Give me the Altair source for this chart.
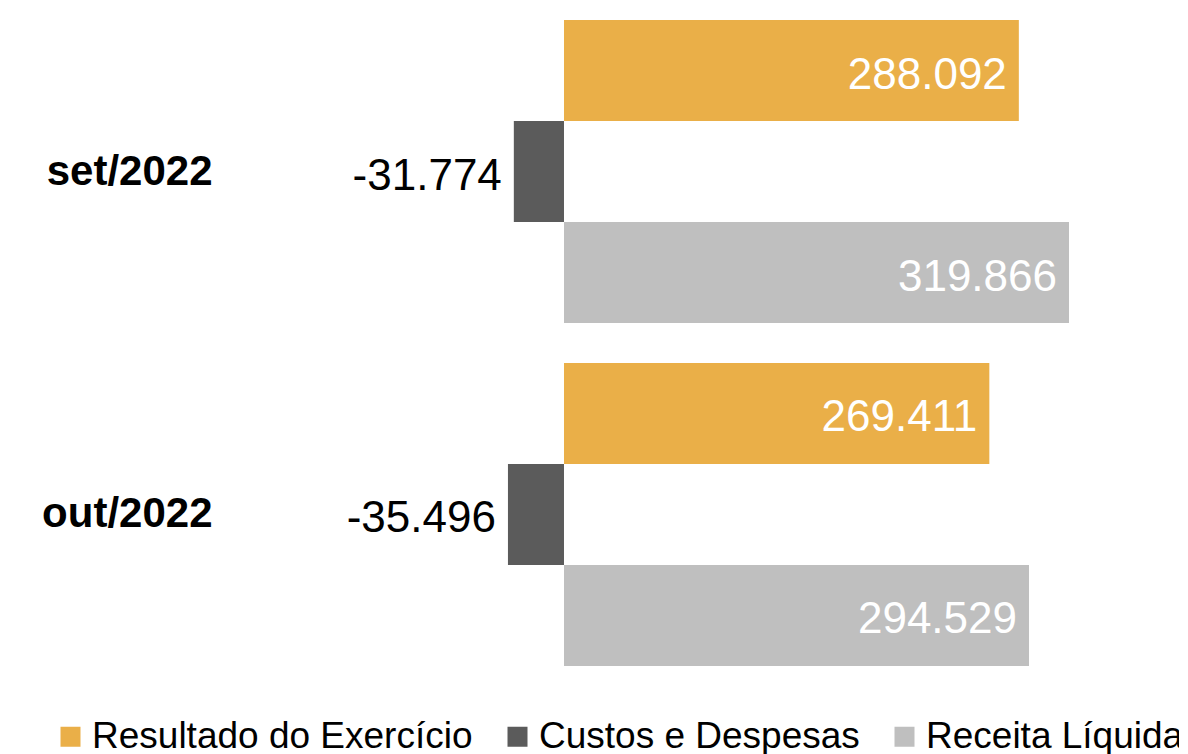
import altair as alt
import pandas as pd

categories = ["set/2022", "out/2022"]
series = ["Resultado do Exercício", "Custos e Despesas", "Receita Líquida"]
resultado = [288092, 269411]
custos = [-31774, -35496]
receita = [319866, 294529]
colors = ["#EAAF48", "#5B5B5B", "#BFBFBF"]

rows = []
for i, c in enumerate(categories):
    for s, vals in zip(series, [resultado, custos, receita]):
        v = vals[i]
        rows.append({"periodo": c, "serie": s, "valor": v,
                     "rotulo": f"{v:,}".replace(",", "."),
                     "pos": v >= 0})
df = pd.DataFrame(rows)

FONT = "Liberation Sans"

y_enc = alt.Y("periodo:N", sort=categories,
              scale=alt.Scale(paddingInner=0.1166, paddingOuter=0),
              axis=alt.Axis(title=None, domain=False, ticks=False, labelPadding=18,
                            labelFont=FONT, labelFontSize=42, labelFontWeight="bold",
                            labelColor="#000000", grid=False))
yoff = alt.YOffset("serie:N", sort=series, scale=alt.Scale(paddingInner=0, paddingOuter=0))
x_enc = alt.X("valor:Q", scale=alt.Scale(domain=[-211550, 319866], nice=False, zero=False),
              axis=None)

bars = alt.Chart(df).mark_bar().encode(
    x=x_enc,
    y=y_enc,
    yOffset=yoff,
    color=alt.Color("serie:N", sort=series,
                    scale=alt.Scale(domain=series, range=colors),
                    legend=alt.Legend(title=None, orient="none", direction="horizontal",
                                      legendX=-178, legendY=698, symbolType="square",
                                      symbolSize=400, symbolStrokeWidth=0,
                                      labelFont=FONT, labelFontSize=37, labelColor="#000000",
                                      labelOffset=3, columnPadding=26, padding=0,
                                      labelLimit=600)),
)

labels = alt.Chart(df).mark_text(align="right", baseline="middle", dx=-12, dy=5,
                                 font=FONT, fontSize=44).encode(
    x=x_enc,
    y=y_enc,
    yOffset=yoff,
    text="rotulo:N",
    color=alt.condition("datum.pos", alt.value("#FFFFFF"), alt.value("#000000")),
)

chart = alt.layer(bars, labels).properties(
    width=839, height=646,
    autosize=alt.AutoSizeParams(type="none"),
    padding={"left": 222, "top": 12, "right": 110, "bottom": 88},
).configure_view(stroke=None)

chart.save("out.html", embed_options={"renderer": "svg", "actions": False})
